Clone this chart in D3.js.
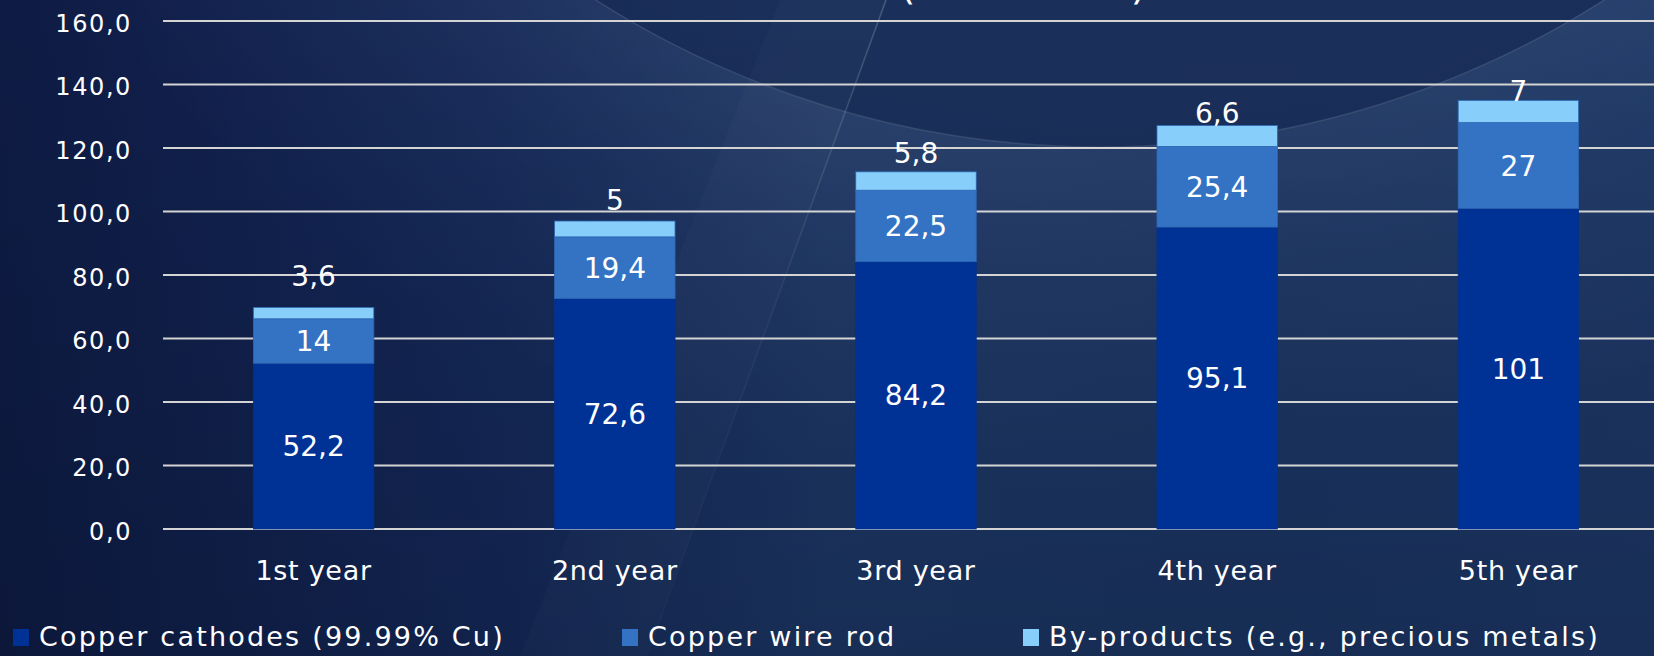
<!DOCTYPE html>
<html>
<head>
<meta charset="utf-8">
<script src="https://cdn.jsdelivr.net/npm/d3@7"></script>
<style>
  html, body { margin: 0; padding: 0; background: #13254f; }
  svg { display: block; }
  text { font-family: "DejaVu Sans", sans-serif; fill: #ffffff; }
</style>
</head>
<body>
<svg id="chart" width="1654" height="656"></svg>
<script>
// ---- data ----
const categories = ["1st year", "2nd year", "3rd year", "4th year", "5th year"];
const seriesNames = ["Copper cathodes (99.99% Cu)", "Copper wire rod", "By-products (e.g., precious metals)"];
const cathodes = [52.2, 72.6, 84.2, 95.1, 101];
const wireRod = [14, 19.4, 22.5, 25.4, 27];
const byProducts = [3.6, 5, 5.8, 6.6, 7];
const yTicks = [0, 20, 40, 60, 80, 100, 120, 140, 160];
const titleText = "(thousand t)";

// ---- layout / style ----
const W = 1654, H = 656;
const colors = ["#003296", "#3473c4", "#87cefa"];
const topLabelLift = [31, 21, 19, 13, 9]; // px above bar top, as placed in the original

const svg = d3.select("#chart");
const defs = svg.append("defs");

// background
const bgGrad = defs.append("linearGradient").attr("id", "bgx").attr("x1", 0).attr("x2", 1).attr("y1", 0).attr("y2", 0);
[[0, "#0e1b44"], [0.3, "#142858"], [0.5, "#1c3664"], [0.75, "#1a3462"], [1, "#1c3665"]]
  .forEach(([o, c]) => bgGrad.append("stop").attr("offset", o).attr("stop-color", c));
const vGrad = defs.append("linearGradient").attr("id", "bgy").attr("x1", 0).attr("x2", 0).attr("y1", 0).attr("y2", 1);
vGrad.append("stop").attr("offset", 0).attr("stop-color", "#000").attr("stop-opacity", 0);
vGrad.append("stop").attr("offset", 1).attr("stop-color", "#000").attr("stop-opacity", 0.15);
const lineGrad = defs.append("linearGradient").attr("id", "lineg").attr("gradientUnits", "userSpaceOnUse")
  .attr("x1", 886).attr("y1", 0).attr("x2", 647).attr("y2", 656);
lineGrad.append("stop").attr("offset", 0).attr("stop-color", "#fff").attr("stop-opacity", 0.2);
lineGrad.append("stop").attr("offset", 0.45).attr("stop-color", "#fff").attr("stop-opacity", 0.06);
lineGrad.append("stop").attr("offset", 1).attr("stop-color", "#fff").attr("stop-opacity", 0.02);
const haze = defs.append("radialGradient").attr("id", "haze").attr("gradientUnits", "userSpaceOnUse")
  .attr("cx", 1100).attr("cy", -790).attr("r", 1300);
haze.append("stop").attr("offset", 0.7).attr("stop-color", "#fff").attr("stop-opacity", 0.06);
haze.append("stop").attr("offset", 0.83).attr("stop-color", "#fff").attr("stop-opacity", 0.025);
haze.append("stop").attr("offset", 1).attr("stop-color", "#fff").attr("stop-opacity", 0);

svg.append("rect").attr("width", W).attr("height", H).attr("fill", "url(#bgx)");
// lighter haze outside the big circle
svg.append("rect").attr("width", W).attr("height", H).attr("fill", "url(#haze)");
// big darker circle
svg.append("circle").attr("cx", 1100).attr("cy", -790).attr("r", 937)
  .attr("fill", "#10244f").attr("fill-opacity", 0.6)
  .attr("stroke", "#ffffff").attr("stroke-opacity", 0.1).attr("stroke-width", 1.5);
// diagonal light wedge
svg.append("path").attr("d", "M886,0 L647,656 L520,656 L780,0 Z")
  .attr("fill", "#ffffff").attr("fill-opacity", 0.02);
svg.append("path").attr("d", "M886,0 L647,656")
  .attr("stroke", "url(#lineg)").attr("stroke-width", 1.5).attr("fill", "none");
svg.append("rect").attr("width", W).attr("height", H).attr("fill", "url(#bgy)");

// title remnant (cut by the top edge as in the original)
svg.append("text").attr("x", 1023).attr("y", -1).attr("text-anchor", "middle")
  .style("font-size", "40px").text(titleText);

// scales
const x = d3.scaleBand().domain(categories).range([163, 1669]).paddingInner(0.6).paddingOuter(0.3);
const y = d3.scaleLinear().domain([0, 160]).range([529, 21]);

// gridlines
svg.append("g").selectAll("line").data(yTicks).join("line")
  .attr("x1", 163).attr("x2", W)
  .attr("y1", d => y(d)).attr("y2", d => y(d))
  .attr("stroke", "#d4d4d4").attr("stroke-width", 2);

// y axis labels
const fmt = d => d3.format(".1f")(d).replace(".", ",");
const yAxis = d3.axisLeft(y).tickValues(yTicks).tickFormat(fmt).tickSize(0).tickPadding(0);
const gy = svg.append("g").attr("transform", "translate(132,0)").call(yAxis);
gy.select(".domain").remove();
gy.selectAll("text").attr("fill", "#ffffff").attr("dy", "0.42em")
  .style("font-size", "24px").style("letter-spacing", "1.6px").style("font-family", "DejaVu Sans");

// x axis labels
const xAxis = d3.axisBottom(x).tickSize(0).tickPadding(0);
const gx = svg.append("g").attr("transform", "translate(0,580)").call(xAxis);
gx.select(".domain").remove();
gx.selectAll("text").attr("fill", "#ffffff").attr("dy", 0).attr("y", 0)
  .style("font-size", "27px").style("letter-spacing", "0.7px").style("font-family", "DejaVu Sans");

// stacked data
const rows = categories.map((c, i) => ({ cat: c, s0: cathodes[i], s1: wireRod[i], s2: byProducts[i], i }));
const stack = d3.stack().keys(["s0", "s1", "s2"]);
const layers = stack(rows);

const gBars = svg.append("g");
layers.forEach((layer, k) => {
  gBars.append("g").selectAll("rect").data(layer).join("rect")
    .attr("x", d => x(d.data.cat))
    .attr("width", x.bandwidth())
    .attr("y", d => y(d[1]))
    .attr("height", d => y(d[0]) - y(d[1]))
    .attr("fill", colors[k])
    .attr("stroke", k === 0 ? "#06318a" : "#2d66b3")
    .attr("stroke-width", 0.8);
});

// labels
const numFmt = v => String(v).replace(".", ",");
const fs = 28;
layers.forEach((layer, k) => {
  svg.append("g").selectAll("text").data(layer).join("text")
    .attr("x", d => x(d.data.cat) + x.bandwidth() / 2)
    .attr("y", d => {
      const cy = k < 2 ? (y(d[0]) + y(d[1])) / 2 : y(d[1]) - topLabelLift[d.data.i];
      return cy + fs * 0.36;
    })
    .attr("text-anchor", "middle")
    .style("font-size", fs + "px")
    .text(d => numFmt(d.data["s" + k]));
});

// legend
const legendX = [13, 622, 1023];
const lg = svg.append("g");
seriesNames.forEach((name, k) => {
  lg.append("rect").attr("x", legendX[k]).attr("y", 629).attr("width", 16).attr("height", 17).attr("fill", colors[k]);
  lg.append("text").attr("x", legendX[k] + 26).attr("y", 646)
    .style("font-size", "27px").style("letter-spacing", "2.2px").text(name);
});
</script>
</body>
</html>
